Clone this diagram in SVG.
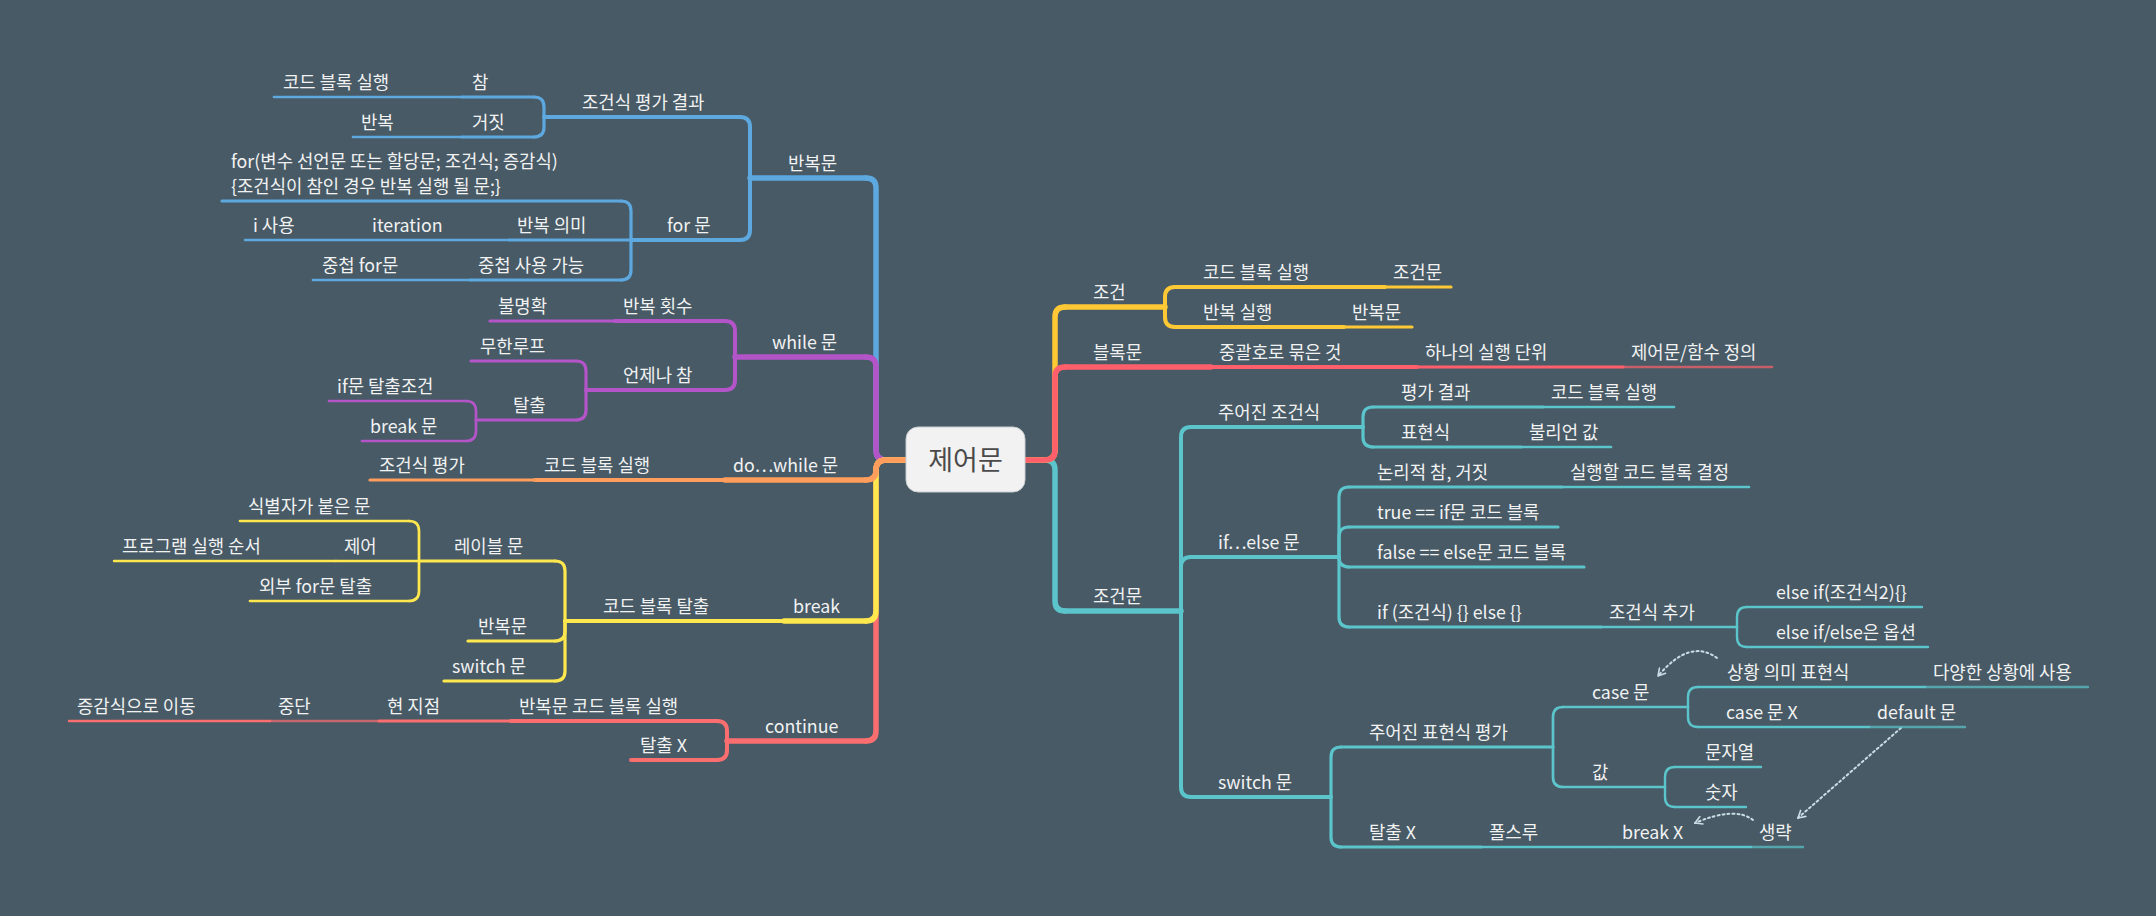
<svg xmlns="http://www.w3.org/2000/svg" width="2156" height="916" viewBox="0 0 2156 916">
<style>
.t{font-family:"Noto Sans CJK KR","Noto Sans",sans-serif;font-size:17.8px;fill:#f2f2f2}
.c{font-family:"Noto Sans CJK KR","Noto Sans",sans-serif;font-size:27px;fill:#4a4a4a}
line,path{fill:none;stroke-linecap:round;stroke-linejoin:round}
.blue{stroke:#5ea8e0}.purple{stroke:#b354c8}.orange{stroke:#ff9d5c}.yellow{stroke:#ffe84e}
.cred{stroke:#fb6e70}.gold{stroke:#ffc935}.red{stroke:#ff5f6a}.teal{stroke:#5cc4cb}
.w1{stroke-width:5.5}.w2{stroke-width:4}.w3{stroke-width:3.2}.w4{stroke-width:2.7}.w5{stroke-width:2.4}
.dim{opacity:.7}
.rel{stroke:#c9dde6;stroke-width:2;stroke-dasharray:2 3;fill:none}
</style>
<defs>
<marker id="arr" viewBox="0 0 10 10" refX="8" refY="5" markerWidth="10" markerHeight="10" markerUnits="userSpaceOnUse" orient="auto">
<path d="M1,1 L8,5 L1,9" fill="none" stroke="#c9dde6" stroke-width="1.6" stroke-dasharray="none"/>
</marker>
</defs>
<rect width="2156" height="916" fill="#475a66"/>

<g id="connectors">
<path class="blue w1" d="M906 460 H886 Q876 460 876 450 V188 Q876 178 866 178"/>
<path class="purple w1" d="M906 460 H886 Q876 460 876 450 V367 Q876 357 866 357"/>
<path class="cred w1" d="M906 460 H886 Q876 460 876 470 V731 Q876 741 866 741"/>
<path class="yellow w1" d="M906 460 H886 Q876 460 876 470 V611 Q876 621 866 621"/>
<path class="orange w1" d="M906 460 H886 Q876 460 876 470 Q876 480 866 480"/>
<path class="teal w1" d="M1025 460 H1045 Q1055 460 1055 470 V601 Q1055 611 1065 611"/>
<path class="gold w1" d="M1025 460 H1045 Q1055 460 1055 450 V317 Q1055 307 1065 307"/>
<path class="red w1" d="M1025 460 H1045 Q1055 460 1055 450 V377 Q1055 367 1065 367"/>
<path class="blue w2" d="M750 178 V127 Q750 117 740 117"/>
<path class="blue w2" d="M750 178 V230 Q750 240 740 240"/>
<path class="blue w3" d="M544 117 V107 Q544 97 534 97"/>
<path class="blue w3" d="M544 117 V127 Q544 137 534 137"/>
<path class="blue w3" d="M631 240 V211 Q631 201 621 201"/>
<path class="blue w3" d="M631 240 V270 Q631 280 621 280"/>
<path class="purple w2" d="M735 357 V331 Q735 321 725 321"/>
<path class="purple w2" d="M735 357 V380 Q735 390 725 390"/>
<path class="purple w3" d="M586 390 V371 Q586 361 576 361"/>
<path class="purple w3" d="M586 390 V410 Q586 420 576 420"/>
<path class="purple w4" d="M476 420 V411 Q476 401 466 401"/>
<path class="purple w4" d="M476 420 V431 Q476 441 466 441"/>
<path class="yellow w3" d="M565 621 V571 Q565 561 555 561"/>
<path class="yellow w3" d="M565 621 V631 Q565 641 555 641"/>
<path class="yellow w3" d="M565 621 V671 Q565 681 555 681"/>
<path class="yellow w4" d="M419 561 V531 Q419 521 409 521"/>
<path class="yellow w4" d="M419 561 V591 Q419 601 409 601"/>
<path class="cred w2" d="M727 741 V731 Q727 721 717 721"/>
<path class="cred w2" d="M727 741 V750 Q727 760 717 760"/>
<path class="gold w2" d="M1165 307 V297 Q1165 287 1175 287"/>
<path class="gold w2" d="M1165 307 V317 Q1165 327 1175 327"/>
<path class="teal w2" d="M1181 611 V437 Q1181 427 1191 427"/>
<path class="teal w2" d="M1181 611 V567 Q1181 557 1191 557"/>
<path class="teal w2" d="M1181 611 V787 Q1181 797 1191 797"/>
<path class="teal w3" d="M1363 427 V417 Q1363 407 1373 407"/>
<path class="teal w3" d="M1363 427 V437 Q1363 447 1373 447"/>
<path class="teal w3" d="M1339 557 V497 Q1339 487 1349 487"/>
<path class="teal w3" d="M1339 557 V537 Q1339 527 1349 527"/>
<path class="teal w3" d="M1339 557 Q1339 567 1349 567"/>
<path class="teal w3" d="M1339 557 V617 Q1339 627 1349 627"/>
<path class="teal w5" d="M1737 627 V617 Q1737 607 1747 607"/>
<path class="teal w5" d="M1737 627 V637 Q1737 647 1747 647"/>
<path class="teal w3" d="M1331 797 V757 Q1331 747 1341 747"/>
<path class="teal w3" d="M1331 797 V837 Q1331 847 1341 847"/>
<path class="teal w4" d="M1553 747 V717 Q1553 707 1563 707"/>
<path class="teal w4" d="M1553 747 V777 Q1553 787 1563 787"/>
<path class="teal w5" d="M1688 707 V697 Q1688 687 1698 687"/>
<path class="teal w5" d="M1688 707 V717 Q1688 727 1698 727"/>
<path class="teal w5" d="M1665 787 V777 Q1665 767 1675 767"/>
<path class="teal w5" d="M1665 787 V797 Q1665 807 1675 807"/>
<path class="rel" d="M1717 658 Q1690 638 1658 676" marker-end="url(#arr)"/>
<path class="rel" d="M1901 728 L1798 818" marker-end="url(#arr)"/>
<path class="rel" d="M1753 820 Q1735 806 1695 823" marker-end="url(#arr)"/>
</g>

<g id="center">
<rect x="906" y="427" width="119" height="65" rx="12" fill="#f2f2f2" stroke="#c8cdd0" stroke-width="1"/>
<text class="c" x="965.5" y="470" text-anchor="middle">제어문</text>
</g>

<g id="n-loop"><line class="blue w1" x1="750" y1="178" x2="866" y2="178"/><text class="t" x="788" y="170">반복문</text></g>
<g id="n-cond-eval"><line class="blue w2" x1="544" y1="117" x2="740" y2="117"/><text class="t" x="582" y="109">조건식 평가 결과</text></g>
<g id="n-true"><line class="blue w3" x1="462" y1="97" x2="534" y2="97"/><text class="t" x="472" y="89">참</text></g>
<g id="n-true-run"><line class="blue w4" x1="274" y1="97" x2="462" y2="97"/><text class="t" x="283" y="89">코드 블록 실행</text></g>
<g id="n-false"><line class="blue w3" x1="462" y1="137" x2="534" y2="137"/><text class="t" x="472" y="129">거짓</text></g>
<g id="n-false-rep"><line class="blue w4" x1="353" y1="137" x2="462" y2="137"/><text class="t" x="361" y="129">반복</text></g>
<g id="n-for"><line class="blue w2" x1="631" y1="240" x2="740" y2="240"/><text class="t" x="667" y="232">for 문</text></g>
<g id="n-for-syntax"><line class="blue w3" x1="222" y1="201" x2="621" y2="201"/><text class="t" x="231" y="168">for(변수 선언문 또는 할당문; 조건식; 증감식)</text><text class="t" x="231" y="193">{조건식이 참인 경우 반복 실행 될 문;}</text></g>
<g id="n-rep-mean"><line class="blue w3" x1="509" y1="240" x2="631" y2="240"/><text class="t" x="517" y="232">반복 의미</text></g>
<g id="n-iteration"><line class="blue w4" x1="364" y1="240" x2="509" y2="240"/><text class="t" x="372" y="232">iteration</text></g>
<g id="n-i-use"><line class="blue w5" x1="245" y1="240" x2="364" y2="240"/><text class="t" x="253" y="232">i 사용</text></g>
<g id="n-nest-ok"><line class="blue w3" x1="470" y1="280" x2="621" y2="280"/><text class="t" x="478" y="272">중첩 사용 가능</text></g>
<g id="n-nest-for"><line class="blue w4" x1="313" y1="280" x2="470" y2="280"/><text class="t" x="322" y="272">중첩 for문</text></g>

<g id="n-while"><line class="purple w1" x1="735" y1="357" x2="866" y2="357"/><text class="t" x="772" y="349">while 문</text></g>
<g id="n-rep-count"><line class="purple w2" x1="615" y1="321" x2="725" y2="321"/><text class="t" x="623" y="313">반복 횟수</text></g>
<g id="n-unclear"><line class="purple w3" x1="490" y1="321" x2="615" y2="321"/><text class="t" x="498" y="313">불명확</text></g>
<g id="n-always-true"><line class="purple w2" x1="586" y1="390" x2="725" y2="390"/><text class="t" x="623" y="382">언제나 참</text></g>
<g id="n-inf-loop"><line class="purple w3" x1="471" y1="361" x2="576" y2="361"/><text class="t" x="480" y="353">무한루프</text></g>
<g id="n-escape"><line class="purple w3" x1="476" y1="420" x2="576" y2="420"/><text class="t" x="513" y="412">탈출</text></g>
<g id="n-if-escape"><line class="purple w4" x1="329" y1="401" x2="466" y2="401"/><text class="t" x="337" y="393">if문 탈출조건</text></g>
<g id="n-break-stmt"><line class="purple w4" x1="362" y1="441" x2="466" y2="441"/><text class="t" x="370" y="433">break 문</text></g>

<g id="n-dowhile"><line class="orange w1" x1="725" y1="480" x2="866" y2="480"/><text class="t" x="733" y="472">do⋯while 문</text></g>
<g id="n-dw-run"><line class="orange w2" x1="535" y1="480" x2="725" y2="480"/><text class="t" x="544" y="472">코드 블록 실행</text></g>
<g id="n-dw-eval"><line class="orange w3" x1="370" y1="480" x2="535" y2="480"/><text class="t" x="379" y="472">조건식 평가</text></g>

<g id="n-break"><line class="yellow w1" x1="784" y1="621" x2="866" y2="621"/><text class="t" x="793" y="613">break</text></g>
<g id="n-block-exit"><line class="yellow w2" x1="565" y1="621" x2="784" y2="621"/><text class="t" x="603" y="613">코드 블록 탈출</text></g>
<g id="n-label"><line class="yellow w3" x1="419" y1="561" x2="555" y2="561"/><text class="t" x="454" y="553">레이블 문</text></g>
<g id="n-ident"><line class="yellow w4" x1="240" y1="521" x2="409" y2="521"/><text class="t" x="248" y="513">식별자가 붙은 문</text></g>
<g id="n-control"><line class="yellow w4" x1="336" y1="561" x2="419" y2="561"/><text class="t" x="344" y="553">제어</text></g>
<g id="n-prog-order"><line class="yellow w5" x1="114" y1="561" x2="336" y2="561"/><text class="t" x="122" y="553">프로그램 실행 순서</text></g>
<g id="n-outer-for"><line class="yellow w4" x1="250" y1="601" x2="409" y2="601"/><text class="t" x="259" y="593">외부 for문 탈출</text></g>
<g id="n-brk-loop"><line class="yellow w3" x1="468" y1="641" x2="555" y2="641"/><text class="t" x="478" y="633">반복문</text></g>
<g id="n-brk-switch"><line class="yellow w3" x1="444" y1="681" x2="555" y2="681"/><text class="t" x="452" y="673">switch 문</text></g>

<g id="n-continue"><line class="cred w1" x1="727" y1="741" x2="866" y2="741"/><text class="t" x="765" y="733">continue</text></g>
<g id="n-loop-run"><line class="cred w2" x1="511" y1="721" x2="717" y2="721"/><text class="t" x="519" y="713">반복문 코드 블록 실행</text></g>
<g id="n-cur-point"><line class="cred w3" x1="379" y1="721" x2="511" y2="721"/><text class="t" x="387" y="713">현 지점</text></g>
<g id="n-stop"><line class="cred w4 dim" x1="270" y1="721" x2="379" y2="721"/><text class="t" x="278" y="713">중단</text></g>
<g id="n-goto-inc"><line class="cred w5" x1="69" y1="721" x2="270" y2="721"/><text class="t" x="77" y="713">증감식으로 이동</text></g>
<g id="n-no-exit"><line class="cred w2" x1="631" y1="760" x2="717" y2="760"/><text class="t" x="640" y="752">탈출 X</text></g>

<g id="n-cond"><line class="gold w1" x1="1065" y1="307" x2="1165" y2="307"/><text class="t" x="1093" y="299">조건</text></g>
<g id="n-c-run"><line class="gold w2" x1="1175" y1="287" x2="1385" y2="287"/><text class="t" x="1203" y="279">코드 블록 실행</text></g>
<g id="n-c-condstmt"><line class="gold w3" x1="1385" y1="287" x2="1451" y2="287"/><text class="t" x="1393" y="279">조건문</text></g>
<g id="n-c-rep"><line class="gold w2" x1="1175" y1="327" x2="1344" y2="327"/><text class="t" x="1203" y="319">반복 실행</text></g>
<g id="n-c-loop"><line class="gold w3" x1="1344" y1="327" x2="1412" y2="327"/><text class="t" x="1352" y="319">반복문</text></g>

<g id="n-block"><line class="red w1" x1="1065" y1="367" x2="1211" y2="367"/><text class="t" x="1093" y="359">블록문</text></g>
<g id="n-braces"><line class="red w2" x1="1211" y1="367" x2="1417" y2="367"/><text class="t" x="1219" y="359">중괄호로 묶은 것</text></g>
<g id="n-unit"><line class="red w3" x1="1417" y1="367" x2="1623" y2="367"/><text class="t" x="1425" y="359">하나의 실행 단위</text></g>
<g id="n-ctrl-func"><line class="red w4 dim" x1="1623" y1="367" x2="1772" y2="367"/><text class="t" x="1631" y="359">제어문/함수 정의</text></g>

<g id="n-condstmt"><line class="teal w1" x1="1065" y1="611" x2="1181" y2="611"/><text class="t" x="1093" y="603">조건문</text></g>
<g id="n-given-cond"><line class="teal w2" x1="1191" y1="427" x2="1363" y2="427"/><text class="t" x="1218" y="419">주어진 조건식</text></g>
<g id="n-eval-result"><line class="teal w3" x1="1373" y1="407" x2="1543" y2="407"/><text class="t" x="1401" y="399">평가 결과</text></g>
<g id="n-er-run"><line class="teal w4" x1="1543" y1="407" x2="1674" y2="407"/><text class="t" x="1551" y="399">코드 블록 실행</text></g>
<g id="n-expr"><line class="teal w3" x1="1373" y1="447" x2="1521" y2="447"/><text class="t" x="1401" y="439">표현식</text></g>
<g id="n-bool"><line class="teal w4" x1="1521" y1="447" x2="1611" y2="447"/><text class="t" x="1529" y="439">불리언 값</text></g>
<g id="n-ifelse"><line class="teal w2" x1="1191" y1="557" x2="1339" y2="557"/><text class="t" x="1218" y="549">if⋯else 문</text></g>
<g id="n-logic"><line class="teal w3" x1="1349" y1="487" x2="1562" y2="487"/><text class="t" x="1377" y="479">논리적 참, 거짓</text></g>
<g id="n-decide"><line class="teal w4" x1="1562" y1="487" x2="1749" y2="487"/><text class="t" x="1570" y="479">실행할 코드 블록 결정</text></g>
<g id="n-true-if"><line class="teal w3" x1="1349" y1="527" x2="1558" y2="527"/><text class="t" x="1377" y="519">true == if문 코드 블록</text></g>
<g id="n-false-else"><line class="teal w3" x1="1349" y1="567" x2="1584" y2="567"/><text class="t" x="1377" y="559">false == else문 코드 블록</text></g>
<g id="n-if-syntax"><line class="teal w3" x1="1349" y1="627" x2="1601" y2="627"/><text class="t" x="1377" y="619">if (조건식) {} else {}</text></g>
<g id="n-add-cond"><line class="teal w4" x1="1601" y1="627" x2="1737" y2="627"/><text class="t" x="1609" y="619">조건식 추가</text></g>
<g id="n-elseif"><line class="teal w5" x1="1747" y1="607" x2="1922" y2="607"/><text class="t" x="1776" y="599">else if(조건식2){}</text></g>
<g id="n-optional"><line class="teal w5" x1="1747" y1="647" x2="1928" y2="647"/><text class="t" x="1776" y="639">else if/else은 옵션</text></g>
<g id="n-switch"><line class="teal w2" x1="1191" y1="797" x2="1331" y2="797"/><text class="t" x="1218" y="789">switch 문</text></g>
<g id="n-given-expr"><line class="teal w3" x1="1341" y1="747" x2="1553" y2="747"/><text class="t" x="1369" y="739">주어진 표현식 평가</text></g>
<g id="n-case"><line class="teal w4" x1="1563" y1="707" x2="1688" y2="707"/><text class="t" x="1592" y="699">case 문</text></g>
<g id="n-situation"><line class="teal w5" x1="1698" y1="687" x2="1925" y2="687"/><text class="t" x="1727" y="679">상황 의미 표현식</text></g>
<g id="n-various"><line class="teal w5 dim" x1="1925" y1="687" x2="2088" y2="687"/><text class="t" x="1933" y="679">다양한 상황에 사용</text></g>
<g id="n-case-x"><line class="teal w5" x1="1698" y1="727" x2="1869" y2="727"/><text class="t" x="1726" y="719">case 문 X</text></g>
<g id="n-default"><line class="teal w5 dim" x1="1869" y1="727" x2="1965" y2="727"/><text class="t" x="1877" y="719">default 문</text></g>
<g id="n-value"><line class="teal w4" x1="1563" y1="787" x2="1665" y2="787"/><text class="t" x="1592" y="779">값</text></g>
<g id="n-string"><line class="teal w5" x1="1675" y1="767" x2="1761" y2="767"/><text class="t" x="1705" y="759">문자열</text></g>
<g id="n-number"><line class="teal w5" x1="1675" y1="807" x2="1746" y2="807"/><text class="t" x="1705" y="799">숫자</text></g>
<g id="n-sw-noexit"><line class="teal w3" x1="1341" y1="847" x2="1481" y2="847"/><text class="t" x="1369" y="839">탈출 X</text></g>
<g id="n-fallthrough"><line class="teal w4" x1="1481" y1="847" x2="1614" y2="847"/><text class="t" x="1489" y="839">폴스루</text></g>
<g id="n-break-x"><line class="teal w5" x1="1614" y1="847" x2="1751" y2="847"/><text class="t" x="1622" y="839">break X</text></g>
<g id="n-omit"><line class="teal w5 dim" x1="1751" y1="847" x2="1803" y2="847"/><text class="t" x="1759" y="839">생략</text></g>
</svg>
